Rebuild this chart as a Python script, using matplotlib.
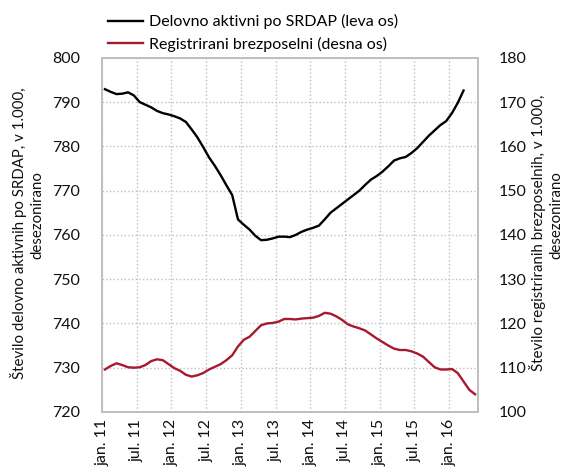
import matplotlib.pyplot as plt
import numpy as np

plt.rcParams['font.family'] = ['Lato', 'DejaVu Sans']

# monthly data, jan 2011 onwards
delovno_aktivni = [
    792.9, 792.3, 791.8, 791.9, 792.2, 791.5, 790.0, 789.4, 788.8, 788.0,
    787.5, 787.2, 786.8, 786.3, 785.5, 783.8, 782.0, 779.8, 777.5, 775.6,
    773.5, 771.2, 769.0, 763.5, 762.3, 761.2, 759.8, 758.8, 758.9, 759.2,
    759.6, 759.6, 759.5, 760.0, 760.7, 761.2, 761.6, 762.1, 763.5, 765.0,
    766.0, 767.0, 768.0, 769.0, 770.0, 771.3, 772.5, 773.3, 774.3, 775.5,
    776.8, 777.3, 777.6, 778.5, 779.6, 781.0, 782.4, 783.6, 784.8, 785.7,
    787.5, 789.8, 792.6,
]
brezposelni = [
    109.6, 110.4, 111.0, 110.6, 110.1, 110.0, 110.1, 110.6, 111.5, 111.9,
    111.7, 110.8, 109.9, 109.3, 108.4, 108.0, 108.3, 108.8, 109.6, 110.2,
    110.8, 111.7, 112.8, 114.8, 116.3, 117.0, 118.3, 119.6, 120.0, 120.1,
    120.4, 121.0, 121.0, 120.9, 121.1, 121.2, 121.3, 121.7, 122.4, 122.2,
    121.6, 120.8, 119.8, 119.3, 118.9, 118.4, 117.5, 116.6, 115.8, 115.0,
    114.3, 114.0, 114.0, 113.7, 113.2, 112.5, 111.3, 110.1, 109.6, 109.6,
    109.7, 108.8, 106.9, 105.0, 104.0,
]
tick_labels = ['jan. 11', 'jul. 11', 'jan. 12', 'jul. 12', 'jan. 13', 'jul. 13',
               'jan. 14', 'jul. 14', 'jan. 15', 'jul. 15', 'jan. 16']
left_title = ['Število delovno aktivnih po SRDAP, v 1.000,', 'desezonirano']
right_title = ['Število registriranih brezposelnih, v 1.000,', 'desezonirano']

red = '#a6192e'
grid_col = '#c0c0c0'

fig = plt.figure(figsize=(5.67, 4.71), dpi=100)
ax = fig.add_axes([0.18, 0.1253, 0.663, 0.752])
ax2 = ax.twinx()

x1 = np.arange(len(delovno_aktivni)) + 0.5
x2 = np.arange(len(brezposelni)) + 0.5
l1, = ax.plot(x1, delovno_aktivni, color='black', lw=1.7)
l2, = ax2.plot(x2, brezposelni, color=red, lw=1.7)

ax.set_xlim(0, 65)
ax.set_ylim(720, 800)
ax2.set_ylim(100, 180)
ax.set_yticks(np.arange(720, 801, 10))
ax2.set_yticks(np.arange(100, 181, 10))
ax.set_xticks(np.arange(0, 61, 6))
ax.set_xticklabels(tick_labels, rotation=90)

ax.grid(True, color=grid_col, ls=':', lw=1)
ax.set_axisbelow(True)
for a in (ax, ax2):
    a.tick_params(length=0, labelsize=11.5, colors='#111111')
    for s in a.spines.values():
        s.set_color('#bfbfbf')
        s.set_linewidth(1.2)
ax.tick_params(axis='y', pad=16)
ax2.tick_params(axis='y', pad=15)
ax.tick_params(axis='x', pad=5)

# axis titles: each line placed on its own, centred along its length
for xp, yp, line in zip([19, 37], [233, 215], left_title):
    fig.text(xp / 567, 1 - yp / 471, line, rotation=90, rotation_mode='anchor',
             ha='center', va='center', fontsize=10.8, color='#111111')
for xp, yp, line in zip([538, 556], [233, 215], right_title):
    fig.text(xp / 567, 1 - yp / 471, line, rotation=90, rotation_mode='anchor',
             ha='center', va='center', fontsize=10.8, color='#111111')

fig.legend([l1, l2], ['Delovno aktivni po SRDAP (leva os)', 'Registrirani brezposelni (desna os)'],
           loc='upper left', bbox_to_anchor=(0.165, 1.0), frameon=False,
           fontsize=11.5, handlelength=2.2, handletextpad=0.4, labelspacing=0.45)

fig.savefig('out.png', dpi=100)
